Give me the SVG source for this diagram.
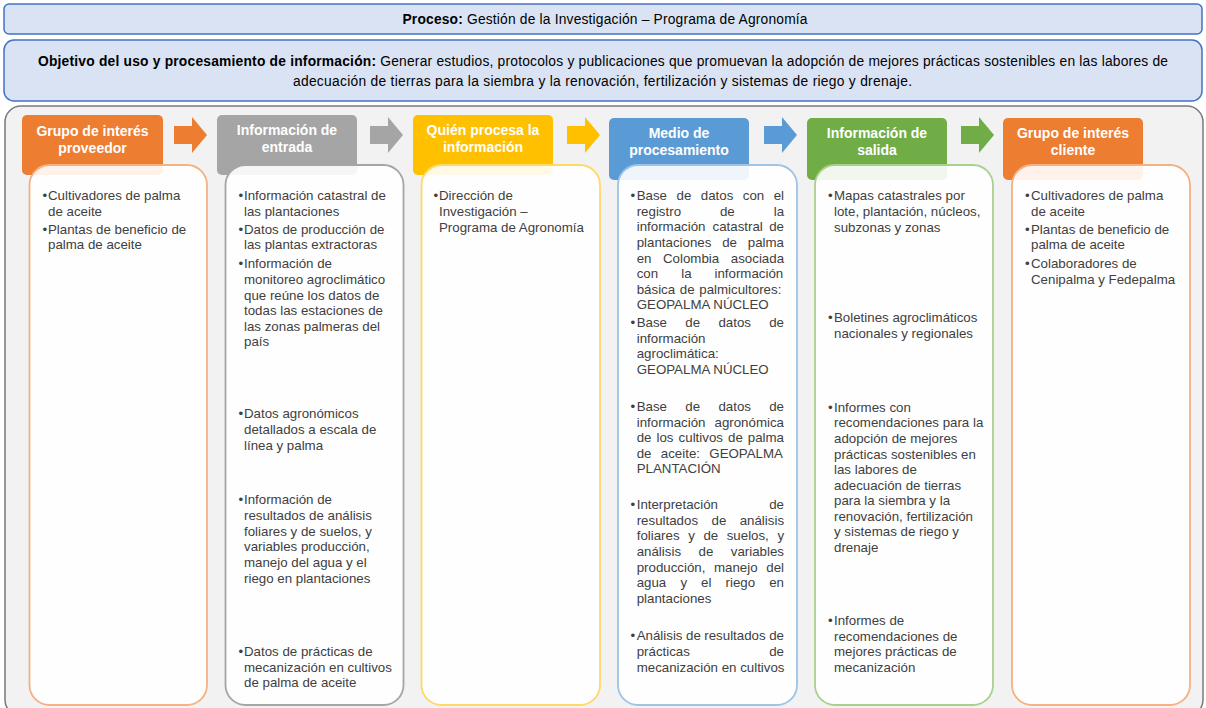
<svg xmlns="http://www.w3.org/2000/svg" width="1206" height="708" viewBox="0 0 1206 708">
<style>
.hdr{fill:#dae3f3;stroke:#4472c4;stroke-width:1.5}
.ht{font-family:"Liberation Sans",Arial,sans-serif;font-size:13.8px;fill:#000}
.b{font-weight:bold}
.tab{stroke:none}
.tt{font-family:"Liberation Sans",Arial,sans-serif;font-size:14px;font-weight:bold;fill:#fff;text-anchor:middle}
.box{fill:#fff;fill-opacity:0.9;stroke-width:1.8}
.tx{font-family:"Liberation Sans",Arial,sans-serif;font-size:13.3px;fill:#404040}
</style>
<g id="header-proceso">
<rect class="hdr" x="4" y="4" width="1198" height="30" rx="5"/>
<text class="ht" x="605" y="23.5" text-anchor="middle" textLength="405" lengthAdjust="spacing"><tspan class="b">Proceso:</tspan> Gestión de la Investigación – Programa de Agronomía</text>
</g>
<g id="header-objetivo">
<rect class="hdr" x="4" y="40" width="1198" height="61" rx="10"/>
<text class="ht" x="603" y="66" text-anchor="middle" textLength="1130" lengthAdjust="spacing"><tspan class="b">Objetivo del uso y procesamiento de información:</tspan> Generar estudios, protocolos y publicaciones que promuevan la adopción de mejores prácticas sostenibles en las labores de</text>
<text class="ht" x="602.5" y="86" text-anchor="middle" textLength="619" lengthAdjust="spacing">adecuación de tierras para la siembra y la renovación, fertilización y sistemas de riego y drenaje.</text>
</g>
<g id="panel">
<rect x="5" y="106" width="1198" height="610" rx="16" fill="#f2f2f2" stroke="#7a7a7a" stroke-width="1.5"/>
</g>
<g id="connectors">
<path d="M174 126H192V117L207 135L192 153V144H174Z" fill="#ed7d31"/>
<path d="M370 126H388V117L403 135L388 153V144H370Z" fill="#a5a5a5"/>
<path d="M567 126H585V117L600 135L585 153V144H567Z" fill="#ffc000"/>
<path d="M764 126H782V117L797 135L782 153V144H764Z" fill="#5b9bd5"/>
<path d="M961 126H979V117L994 135L979 153V144H961Z" fill="#70ad47"/>
</g>
<g id="col1-proveedor">
<rect class="tab" x="22" y="115" width="141" height="60" rx="5" fill="#ed7d31"/>
<text class="tt" x="92.5" y="136"><tspan x="92.5">Grupo de interés</tspan><tspan x="92.5" dy="17">proveedor</tspan></text>
<rect class="box" x="29.5" y="165" width="177.5" height="540" rx="20" stroke="#f4b183"/>
<text class="tx" x="42.5" y="200">•</text>
<text class="tx"><tspan x="48" y="200">Cultivadores de palma</tspan><tspan x="48" y="216">de aceite</tspan></text>
<text class="tx" x="42.5" y="234">•</text>
<text class="tx"><tspan x="48" y="234">Plantas de beneficio de</tspan><tspan x="48" y="249">palma de aceite</tspan></text>
</g>
<g id="col2-entrada">
<rect class="tab" x="217" y="115" width="140" height="60" rx="5" fill="#a5a5a5"/>
<text class="tt" x="287" y="135"><tspan x="287">Información de</tspan><tspan x="287" dy="17">entrada</tspan></text>
<rect class="box" x="225.5" y="165" width="178" height="540" rx="20" stroke="#a5a5a5"/>
<text class="tx" x="238.5" y="200">•</text>
<text class="tx"><tspan x="244" y="200">Información catastral de</tspan><tspan x="244" y="216">las plantaciones</tspan></text>
<text class="tx" x="238.5" y="234">•</text>
<text class="tx"><tspan x="244" y="234">Datos de producción de</tspan><tspan x="244" y="249">las plantas extractoras</tspan></text>
<text class="tx" x="238.5" y="268">•</text>
<text class="tx"><tspan x="244" y="268">Información de</tspan><tspan x="244" y="284">monitoreo agroclimático</tspan><tspan x="244" y="300">que reúne los datos de</tspan><tspan x="244" y="315">todas las estaciones de</tspan><tspan x="244" y="331">las zonas palmeras del</tspan><tspan x="244" y="346">país</tspan></text>
<text class="tx" x="238.5" y="418">•</text>
<text class="tx"><tspan x="244" y="418">Datos agronómicos</tspan><tspan x="244" y="434">detallados a escala de</tspan><tspan x="244" y="450">línea y palma</tspan></text>
<text class="tx" x="238.5" y="504">•</text>
<text class="tx"><tspan x="244" y="504">Información de</tspan><tspan x="244" y="520">resultados de análisis</tspan><tspan x="244" y="536">foliares y de suelos, y</tspan><tspan x="244" y="551">variables producción,</tspan><tspan x="244" y="567">manejo del agua y el</tspan><tspan x="244" y="583">riego en plantaciones</tspan></text>
<text class="tx" x="238.5" y="656">•</text>
<text class="tx"><tspan x="244" y="656">Datos de prácticas de</tspan><tspan x="244" y="672">mecanización en cultivos</tspan><tspan x="244" y="687">de palma de aceite</tspan></text>
</g>
<g id="col3-quien">
<rect class="tab" x="413" y="115" width="140" height="60" rx="5" fill="#ffc000"/>
<text class="tt" x="483" y="135"><tspan x="483">Quién procesa la</tspan><tspan x="483" dy="17">información</tspan></text>
<rect class="box" x="421.5" y="165" width="178.5" height="540" rx="20" stroke="#ffd966"/>
<text class="tx" x="433.5" y="200">•</text>
<text class="tx"><tspan x="439" y="200">Dirección de</tspan><tspan x="439" y="216">Investigación –</tspan><tspan x="439" y="232">Programa de Agronomía</tspan></text>
</g>
<g id="col4-medio">
<rect class="tab" x="609" y="118" width="140" height="62" rx="5" fill="#5b9bd5"/>
<text class="tt" x="679" y="138"><tspan x="679">Medio de</tspan><tspan x="679" dy="17">procesamiento</tspan></text>
<rect class="box" x="618" y="165" width="179" height="540" rx="20" stroke="#9dc3e6"/>
<text class="tx" x="630.5" y="200">•</text>
<text class="tx">
<tspan x="636.7" y="200">Base</tspan><tspan x="676.5" y="200">de</tspan><tspan x="700.8" y="200">datos</tspan><tspan x="742.8" y="200">con</tspan><tspan x="773.7" y="200">el</tspan>
<tspan x="636.7" y="216">registro</tspan><tspan x="719.9" y="216">de</tspan><tspan x="773.7" y="216">la</tspan>
<tspan x="636.7" y="231">información</tspan><tspan x="712.5" y="231">catastral</tspan><tspan x="769.2" y="231">de</tspan>
<tspan x="636.7" y="247">plantaciones</tspan><tspan x="722.2" y="247">de</tspan><tspan x="747.8" y="247">palma</tspan>
<tspan x="636.7" y="263">en</tspan><tspan x="663" y="263">Colombia</tspan><tspan x="730.8" y="263">asociada</tspan>
<tspan x="636.7" y="278">con</tspan><tspan x="681.2" y="278">la</tspan><tspan x="714.5" y="278">información</tspan>
<tspan x="636.7" y="294">básica</tspan><tspan x="679.8" y="294">de</tspan><tspan x="699.3" y="294">palmicultores:</tspan>
<tspan x="636.7" y="309">GEOPALMA NÚCLEO</tspan>
</text>
<text class="tx" x="630.5" y="327">•</text>
<text class="tx">
<tspan x="636.7" y="327">Base</tspan><tspan x="685.3" y="327">de</tspan><tspan x="718.4" y="327">datos</tspan><tspan x="769.2" y="327">de</tspan>
<tspan x="636.7" y="343">información</tspan>
<tspan x="636.7" y="358">agroclimática:</tspan>
<tspan x="636.7" y="374">GEOPALMA NÚCLEO</tspan>
</text>
<text class="tx" x="630.5" y="411">•</text>
<text class="tx">
<tspan x="636.7" y="411">Base</tspan><tspan x="685.3" y="411">de</tspan><tspan x="718.4" y="411">datos</tspan><tspan x="769.2" y="411">de</tspan>
<tspan x="636.7" y="427">información</tspan><tspan x="714.5" y="427">agronómica</tspan>
<tspan x="636.7" y="442">de</tspan><tspan x="656.5" y="442">los</tspan><tspan x="678.6" y="442">cultivos</tspan><tspan x="728" y="442">de</tspan><tspan x="747.8" y="442">palma</tspan>
<tspan x="636.7" y="458">de</tspan><tspan x="660.8" y="458">aceite:</tspan><tspan x="709.3" y="458">GEOPALMA</tspan>
<tspan x="636.7" y="473">PLANTACIÓN</tspan>
</text>
<text class="tx" x="630.5" y="509">•</text>
<text class="tx">
<tspan x="636.7" y="509">Interpretación</tspan><tspan x="769.2" y="509">de</tspan>
<tspan x="636.7" y="525">resultados</tspan><tspan x="711.5" y="525">de</tspan><tspan x="739.7" y="525">análisis</tspan>
<tspan x="636.7" y="540">foliares</tspan><tspan x="688.2" y="540">y</tspan><tspan x="703.4" y="540">de</tspan><tspan x="726.7" y="540">suelos,</tspan><tspan x="777.4" y="540">y</tspan>
<tspan x="636.7" y="556">análisis</tspan><tspan x="698.5" y="556">de</tspan><tspan x="730.8" y="556">variables</tspan>
<tspan x="636.7" y="572">producción,</tspan><tspan x="714" y="572">manejo</tspan><tspan x="766.3" y="572">del</tspan>
<tspan x="636.7" y="587">agua</tspan><tspan x="680.4" y="587">y</tspan><tspan x="701.1" y="587">el</tspan><tspan x="725.5" y="587">riego</tspan><tspan x="769.2" y="587">en</tspan>
<tspan x="636.7" y="603">plantaciones</tspan>
</text>
<text class="tx" x="630.5" y="640">•</text>
<text class="tx">
<tspan x="636.7" y="640">Análisis</tspan><tspan x="686" y="640">de</tspan><tspan x="704.3" y="640">resultados</tspan><tspan x="769.2" y="640">de</tspan>
<tspan x="636.7" y="656">prácticas</tspan><tspan x="769.2" y="656">de</tspan>
<tspan x="636.7" y="672">mecanización en cultivos</tspan>
</text>
</g>
<g id="col5-salida">
<rect class="tab" x="807" y="118" width="140" height="62" rx="5" fill="#70ad47"/>
<text class="tt" x="877" y="138"><tspan x="877">Información de</tspan><tspan x="877" dy="17">salida</tspan></text>
<rect class="box" x="815" y="165" width="178" height="540" rx="20" stroke="#a9d18e"/>
<text class="tx" x="828" y="200">•</text>
<text class="tx"><tspan x="834" y="200">Mapas catastrales por</tspan><tspan x="834" y="216">lote, plantación, núcleos,</tspan><tspan x="834" y="232">subzonas y zonas</tspan></text>
<text class="tx" x="828" y="322">•</text>
<text class="tx"><tspan x="834" y="322">Boletines agroclimáticos</tspan><tspan x="834" y="338">nacionales y regionales</tspan></text>
<text class="tx" x="828" y="412">•</text>
<text class="tx"><tspan x="834" y="412">Informes con</tspan><tspan x="834" y="427">recomendaciones para la</tspan><tspan x="834" y="443">adopción de mejores</tspan><tspan x="834" y="459">prácticas sostenibles en</tspan><tspan x="834" y="474">las labores de</tspan><tspan x="834" y="490">adecuación de tierras</tspan><tspan x="834" y="505">para la siembra y la</tspan><tspan x="834" y="521">renovación, fertilización</tspan><tspan x="834" y="536">y sistemas de riego y</tspan><tspan x="834" y="552">drenaje</tspan></text>
<text class="tx" x="828" y="625">•</text>
<text class="tx"><tspan x="834" y="625">Informes de</tspan><tspan x="834" y="641">recomendaciones de</tspan><tspan x="834" y="656">mejores prácticas de</tspan><tspan x="834" y="672">mecanización</tspan></text>
</g>
<g id="col6-cliente">
<rect class="tab" x="1003" y="118" width="140" height="62" rx="5" fill="#ed7d31"/>
<text class="tt" x="1073" y="138"><tspan x="1073">Grupo de interés</tspan><tspan x="1073" dy="17">cliente</tspan></text>
<rect class="box" x="1012" y="165" width="178" height="540" rx="20" stroke="#f4b183"/>
<text class="tx" x="1025" y="200">•</text>
<text class="tx"><tspan x="1031" y="200">Cultivadores de palma</tspan><tspan x="1031" y="216">de aceite</tspan></text>
<text class="tx" x="1025" y="234">•</text>
<text class="tx"><tspan x="1031" y="234">Plantas de beneficio de</tspan><tspan x="1031" y="249">palma de aceite</tspan></text>
<text class="tx" x="1025" y="268">•</text>
<text class="tx"><tspan x="1031" y="268">Colaboradores de</tspan><tspan x="1031" y="284">Cenipalma y Fedepalma</tspan></text>
</g>
</svg>
